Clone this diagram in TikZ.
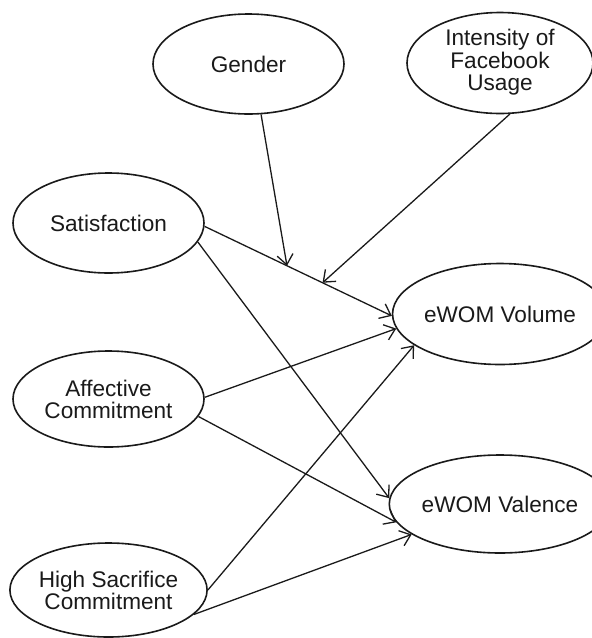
\documentclass[tikz,border=0pt]{standalone}
\usepackage{fontspec}
\setmainfont{Liberation Sans}
\usepackage{tikz}
\usetikzlibrary{arrows.meta,shapes.geometric}
\definecolor{tinta}{HTML}{1A1A1A}
\tikzset{
  latente/.style={ellipse,draw=tinta,fill=white,line width=0.8pt,inner sep=0pt,minimum width=95.5pt,minimum height=50pt,align=center,font=\fontsize{11.3}{11}\selectfont,text=tinta},
  latented/.style={latente,minimum width=93pt,minimum height=50.5pt},
  camino/.style={draw=tinta,line width=0.65pt,-{Straight Barb[length=5pt,width=8pt]}},
}

\begin{document}
\begin{tikzpicture}[x=0.5pt,y=-0.5pt]
  \useasboundingbox (0,0) rectangle (592,638);
  % moderadores
  \node[latente] (gen) at (248.5,64) {Gender};
  \node[latented] (int) at (500,63) {\raisebox{-1.5pt}{\begin{tabular}{@{}c@{}}Intensity of\\Facebook\\Usage\end{tabular}}};
  % predictores
  \node[latente] (sat) at (108.5,223) {Satisfaction};
  \node[latente,minimum height=48pt] (afe) at (108.5,399) {Affective\\Commitment};
  \node[latente,minimum height=47pt] (sac) at (108.5,590) {High Sacrifice\\Commitment};
  % resultados
  \node[latented] (vol) at (500,314) {eWOM Volume};
  \node[latented,minimum height=49pt] (val) at (500,504) {eWOM Valence};
  % caminos
  \draw[camino] (sat.-2.4) -- coordinate[pos=0.44] (mgen) coordinate[pos=0.63] (mint) (vol.181);
  \draw[camino] (sat.-12.3) -- (val.177.5);
  \draw[camino] (afe.1) -- (vol.188);
  \draw[camino] (afe.-11.7) -- (val.190);
  \draw[camino] (sac.0) -- (vol.200);
  \draw[camino] (sac.-16.4) -- (val.199);
  \draw[camino] (gen.-76) -- (mgen);
  \draw[camino] (int.-79) -- (mint);
\end{tikzpicture}
\end{document}
